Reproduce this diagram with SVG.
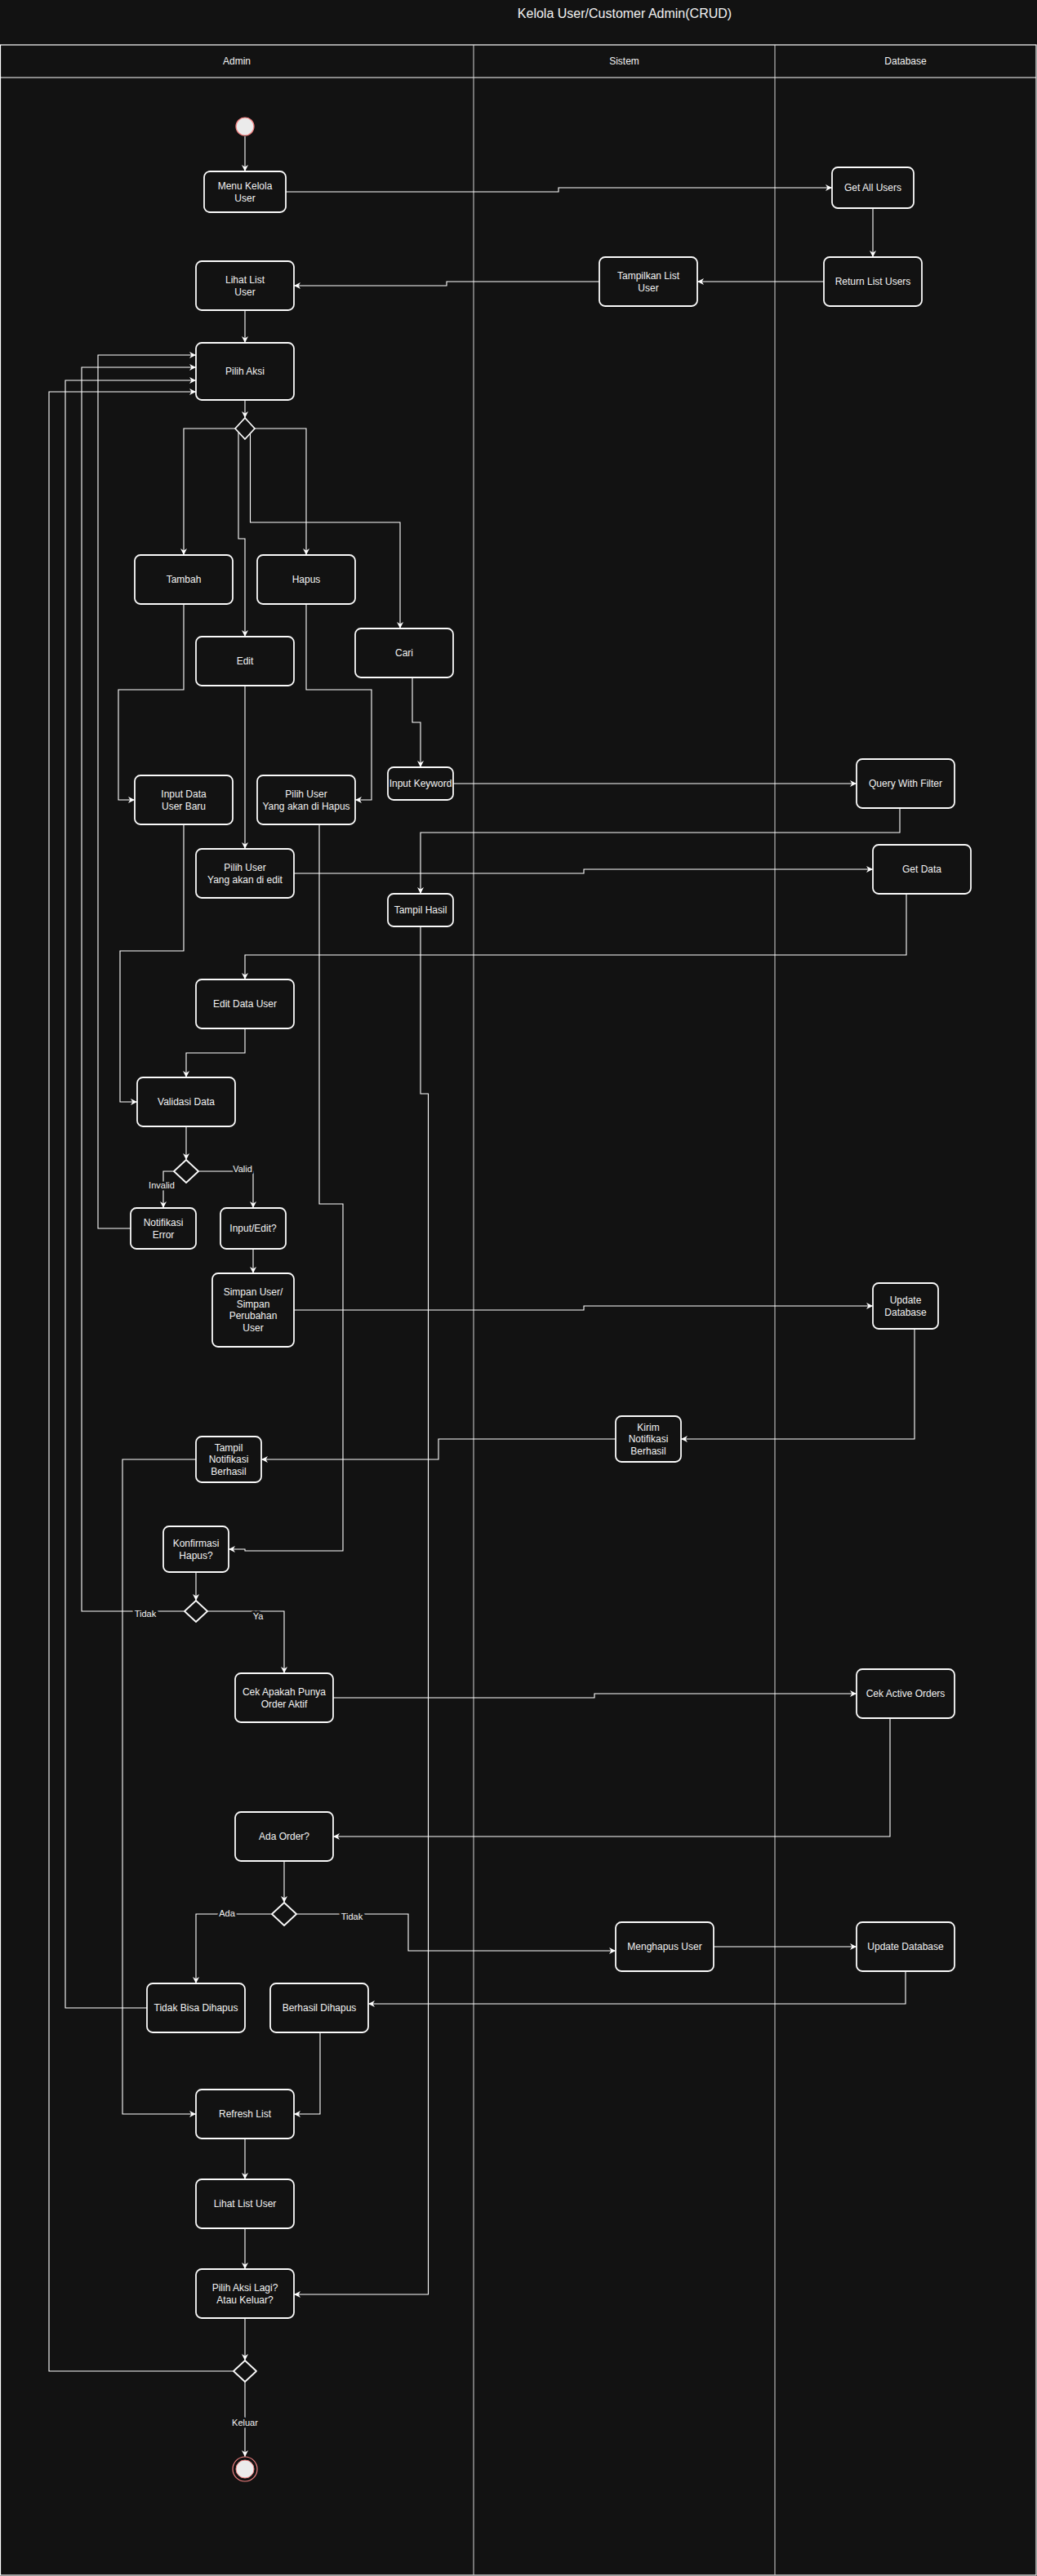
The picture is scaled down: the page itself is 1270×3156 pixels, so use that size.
<svg xmlns="http://www.w3.org/2000/svg" width="1270" height="3156" viewBox="0 0 1270 3156">
<defs>
<style>
.bg{fill:#121212}
.pool{fill:none;stroke:#ffffff;stroke-width:1.2}
.sep{stroke:#d6d6d6;stroke-width:1}
.n rect,.n polygon{fill:#121212;stroke:#fafafa;stroke-width:1.8;stroke-linejoin:round}
.t{font-family:"Liberation Sans",Arial,Helvetica,sans-serif;font-size:12px;fill:#f2f2f2;text-anchor:middle}
.h{font-family:"Liberation Sans",Arial,Helvetica,sans-serif;font-size:12px;fill:#f2f2f2;text-anchor:middle}
.title{font-family:"Liberation Sans",Arial,Helvetica,sans-serif;font-size:16px;fill:#f2f2f2;text-anchor:middle}
.e{fill:none;stroke:#ffffff;stroke-width:1.1;marker-end:url(#arr)}
.l{font-family:"Liberation Sans",Arial,Helvetica,sans-serif;font-size:11px;fill:#f2f2f2;text-anchor:middle;stroke:#121212;stroke-width:5;paint-order:stroke;stroke-linejoin:round}
</style>
<marker id="arr" viewBox="0 0 10 10" refX="10" refY="5" markerWidth="8" markerHeight="8" markerUnits="userSpaceOnUse" orient="auto">
<path d="M0,0 L10,5 L0,10 L3,5 Z" fill="#ffffff"/>
</marker>
</defs>
<rect class="bg" x="0" y="0" width="1270" height="3156"/>
<text class="title" x="765" y="22">Kelola User/Customer Admin(CRUD)</text>
<g id="pool">
<rect class="pool" x="0.5" y="55" width="1268.5" height="3100"/>
<line class="pool" x1="0" y1="95" x2="1269" y2="95"/>
<line class="sep" x1="580" y1="55" x2="580" y2="3155"/>
<line class="sep" x1="949" y1="55" x2="949" y2="3155"/>
<text class="h" x="290" y="79">Admin</text>
<text class="h" x="764.5" y="79">Sistem</text>
<text class="h" x="1109" y="79">Database</text>
</g>
<g id="connectors">
<path class="e" d="M300,167 L300,210"/>
<path class="e" d="M350,235 L684,235 L684,230 L1019,230"/>
<path class="e" d="M1069,255 L1069,315"/>
<path class="e" d="M1009,345 L854,345"/>
<path class="e" d="M734,345 L547,345 L547,350 L360,350"/>
<path class="e" d="M300,380 L300,420"/>
<path class="e" d="M300,490 L300,512"/>
<path class="e" d="M288,525 L225,525 L225,680"/>
<path class="e" d="M312,525 L375,525 L375,680"/>
<path class="e" d="M292,530 L292,660 L300,660 L300,780"/>
<path class="e" d="M306.5,531 L306.5,640 L490,640 L490,770"/>
<path class="e" d="M225,740 L225,845 L145,845 L145,980 L165,980"/>
<path class="e" d="M375,740 L375,845 L455,845 L455,980 L435,980"/>
<path class="e" d="M300,840 L300,1040"/>
<path class="e" d="M505,830 L505,885 L515,885 L515,940"/>
<path class="e" d="M555,960 L1049,960"/>
<path class="e" d="M1102,990 L1102,1020 L515,1020 L515,1095"/>
<path class="e" d="M360,1070 L715,1070 L715,1065 L1069,1065"/>
<path class="e" d="M1110,1095 L1110,1170 L300,1170 L300,1200"/>
<path class="e" d="M225,1010 L225,1165 L147,1165 L147,1350 L168,1350"/>
<path class="e" d="M300,1260 L300,1290 L228,1290 L228,1320"/>
<path class="e" d="M228,1380 L228,1421"/>
<path class="e" d="M213,1435 L200,1435 L200,1480"/>
<path class="e" d="M243,1435 L310,1435 L310,1480"/>
<path class="e" d="M160,1505 L120,1505 L120,435 L240,435"/>
<path class="e" d="M310,1530 L310,1560"/>
<path class="e" d="M360,1605 L715,1605 L715,1600 L1069,1600"/>
<path class="e" d="M1120,1628 L1120,1763 L834,1763"/>
<path class="e" d="M754,1763 L537,1763 L537,1788 L320,1788"/>
<path class="e" d="M240,1788 L150,1788 L150,2590 L240,2590"/>
<path class="e" d="M391,1010 L391,1475 L420,1475 L420,1900 L300,1900 L300,1898 L280,1898"/>
<path class="e" d="M240,1926 L240,1961"/>
<path class="e" d="M226,1974 L100,1974 L100,450 L240,450"/>
<path class="e" d="M254,1974 L348,1974 L348,2050"/>
<path class="e" d="M408,2080 L728,2080 L728,2075 L1049,2075"/>
<path class="e" d="M1090,2105 L1090,2250 L408,2250"/>
<path class="e" d="M348,2280 L348,2331"/>
<path class="e" d="M333,2345 L240,2345 L240,2430"/>
<path class="e" d="M363,2345 L500,2345 L500,2390 L754,2390"/>
<path class="e" d="M874,2385 L1049,2385"/>
<path class="e" d="M1109,2415 L1109,2455 L451,2455"/>
<path class="e" d="M180,2460 L80,2460 L80,466 L240,466"/>
<path class="e" d="M392,2490 L392,2590 L360,2590"/>
<path class="e" d="M300,2620 L300,2670"/>
<path class="e" d="M300,2730 L300,2780"/>
<path class="e" d="M300,2840 L300,2892"/>
<path class="e" d="M287,2905 L60,2905 L60,480 L240,480"/>
<path class="e" d="M300,2918 L300,3010"/>
<path class="e" d="M515,1135 L515,1340 L524.5,1340 L524.5,2811 L360,2811"/>
<text class="l" x="198" y="1456">Invalid</text>
<text class="l" x="297" y="1436">Valid</text>
<text class="l" x="178" y="1981">Tidak</text>
<text class="l" x="316" y="1984">Ya</text>
<text class="l" x="278" y="2348">Ada</text>
<text class="l" x="431" y="2352">Tidak</text>
<text class="l" x="300" y="2972">Keluar</text>
</g>
<g id="start"><circle cx="300" cy="155" r="11" fill="#ebebeb" stroke="#f08080" stroke-width="1.2"/></g>
<g id="menuKelola" class="n"><rect x="250" y="210" width="100" height="50" rx="7"/><text class="t" x="300" y="231.5">Menu Kelola</text><text class="t" x="300" y="246.5">User</text></g>
<g id="getAllUsers" class="n"><rect x="1019" y="205" width="100" height="50" rx="7"/><text class="t" x="1069" y="234">Get All Users</text></g>
<g id="returnListUsers" class="n"><rect x="1009" y="315" width="120" height="60" rx="7"/><text class="t" x="1069" y="349">Return List Users</text></g>
<g id="tampilkanList" class="n"><rect x="734" y="315" width="120" height="60" rx="7"/><text class="t" x="794" y="341.5">Tampilkan List</text><text class="t" x="794" y="356.5">User</text></g>
<g id="lihatList" class="n"><rect x="240" y="320" width="120" height="60" rx="7"/><text class="t" x="300" y="346.5">Lihat List</text><text class="t" x="300" y="361.5">User</text></g>
<g id="pilihAksi" class="n"><rect x="240" y="420" width="120" height="70" rx="7"/><text class="t" x="300" y="459">Pilih Aksi</text></g>
<g id="decision1" class="n"><polygon points="300,512 312,525 300,538 288,525"/></g>
<g id="tambah" class="n"><rect x="165" y="680" width="120" height="60" rx="7"/><text class="t" x="225" y="714">Tambah</text></g>
<g id="hapus" class="n"><rect x="315" y="680" width="120" height="60" rx="7"/><text class="t" x="375" y="714">Hapus</text></g>
<g id="edit" class="n"><rect x="240" y="780" width="120" height="60" rx="7"/><text class="t" x="300" y="814">Edit</text></g>
<g id="cari" class="n"><rect x="435" y="770" width="120" height="60" rx="7"/><text class="t" x="495" y="804">Cari</text></g>
<g id="inputData" class="n"><rect x="165" y="950" width="120" height="60" rx="7"/><text class="t" x="225" y="976.5">Input Data</text><text class="t" x="225" y="991.5">User Baru</text></g>
<g id="pilihHapus" class="n"><rect x="315" y="950" width="120" height="60" rx="7"/><text class="t" x="375" y="976.5">Pilih User</text><text class="t" x="375" y="991.5">Yang akan di Hapus</text></g>
<g id="inputKeyword" class="n"><rect x="475" y="940" width="80" height="40" rx="7"/><text class="t" x="515" y="964">Input Keyword</text></g>
<g id="pilihEdit" class="n"><rect x="240" y="1040" width="120" height="60" rx="7"/><text class="t" x="300" y="1066.5">Pilih User</text><text class="t" x="300" y="1081.5">Yang akan di edit</text></g>
<g id="tampilHasil" class="n"><rect x="475" y="1095" width="80" height="40" rx="7"/><text class="t" x="515" y="1119">Tampil Hasil</text></g>
<g id="queryFilter" class="n"><rect x="1049" y="930" width="120" height="60" rx="7"/><text class="t" x="1109" y="964">Query With Filter</text></g>
<g id="getData" class="n"><rect x="1069" y="1035" width="120" height="60" rx="7"/><text class="t" x="1129" y="1069">Get Data</text></g>
<g id="editData" class="n"><rect x="240" y="1200" width="120" height="60" rx="7"/><text class="t" x="300" y="1234">Edit Data User</text></g>
<g id="validasi" class="n"><rect x="168" y="1320" width="120" height="60" rx="7"/><text class="t" x="228" y="1354">Validasi Data</text></g>
<g id="decision2" class="n"><polygon points="228,1421 243,1435 228,1449 213,1435"/></g>
<g id="notifError" class="n"><rect x="160" y="1480" width="80" height="50" rx="7"/><text class="t" x="200" y="1501.5">Notifikasi</text><text class="t" x="200" y="1516.5">Error</text></g>
<g id="inputEdit" class="n"><rect x="270" y="1480" width="80" height="50" rx="7"/><text class="t" x="310" y="1509">Input/Edit?</text></g>
<g id="simpan" class="n"><rect x="260" y="1560" width="100" height="90" rx="7"/><text class="t" x="310" y="1587.25">Simpan User/</text><text class="t" x="310" y="1601.75">Simpan</text><text class="t" x="310" y="1616.25">Perubahan</text><text class="t" x="310" y="1630.75">User</text></g>
<g id="updateDb1" class="n"><rect x="1069" y="1572" width="80" height="56" rx="7"/><text class="t" x="1109" y="1596.5">Update</text><text class="t" x="1109" y="1611.5">Database</text></g>
<g id="kirimNotif" class="n"><rect x="754" y="1735" width="80" height="56" rx="7"/><text class="t" x="794" y="1752.5">Kirim</text><text class="t" x="794" y="1767">Notifikasi</text><text class="t" x="794" y="1781.5">Berhasil</text></g>
<g id="tampilNotif" class="n"><rect x="240" y="1760" width="80" height="56" rx="7"/><text class="t" x="280" y="1777.5">Tampil</text><text class="t" x="280" y="1792">Notifikasi</text><text class="t" x="280" y="1806.5">Berhasil</text></g>
<g id="konfirmasi" class="n"><rect x="200" y="1870" width="80" height="56" rx="7"/><text class="t" x="240" y="1894.5">Konfirmasi</text><text class="t" x="240" y="1909.5">Hapus?</text></g>
<g id="decision3" class="n"><polygon points="240,1961 254,1974 240,1987 226,1974"/></g>
<g id="cekApakah" class="n"><rect x="288" y="2050" width="120" height="60" rx="7"/><text class="t" x="348" y="2076.5">Cek Apakah Punya</text><text class="t" x="348" y="2091.5">Order Aktif</text></g>
<g id="cekActive" class="n"><rect x="1049" y="2045" width="120" height="60" rx="7"/><text class="t" x="1109" y="2079">Cek Active Orders</text></g>
<g id="adaOrder" class="n"><rect x="288" y="2220" width="120" height="60" rx="7"/><text class="t" x="348" y="2254">Ada Order?</text></g>
<g id="decision4" class="n"><polygon points="348,2331 363,2345 348,2359 333,2345"/></g>
<g id="menghapus" class="n"><rect x="754" y="2355" width="120" height="60" rx="7"/><text class="t" x="814" y="2389">Menghapus User</text></g>
<g id="updateDb2" class="n"><rect x="1049" y="2355" width="120" height="60" rx="7"/><text class="t" x="1109" y="2389">Update Database</text></g>
<g id="tidakBisa" class="n"><rect x="180" y="2430" width="120" height="60" rx="7"/><text class="t" x="240" y="2464">Tidak Bisa Dihapus</text></g>
<g id="berhasil" class="n"><rect x="331" y="2430" width="120" height="60" rx="7"/><text class="t" x="391" y="2464">Berhasil Dihapus</text></g>
<g id="refresh" class="n"><rect x="240" y="2560" width="120" height="60" rx="7"/><text class="t" x="300" y="2594">Refresh List</text></g>
<g id="lihatList2" class="n"><rect x="240" y="2670" width="120" height="60" rx="7"/><text class="t" x="300" y="2704">Lihat List User</text></g>
<g id="pilihLagi" class="n"><rect x="240" y="2780" width="120" height="60" rx="7"/><text class="t" x="300" y="2806.5">Pilih Aksi Lagi?</text><text class="t" x="300" y="2821.5">Atau Keluar?</text></g>
<g id="decision5" class="n"><polygon points="300,2892 314,2905 300,2918 286,2905"/></g>
<g id="end"><circle cx="300" cy="3025" r="15" fill="#121212" stroke="#f08080" stroke-width="1.2"/><circle cx="300" cy="3025" r="11" fill="#ebebeb" stroke="#f08080" stroke-width="1"/></g>
</svg>
